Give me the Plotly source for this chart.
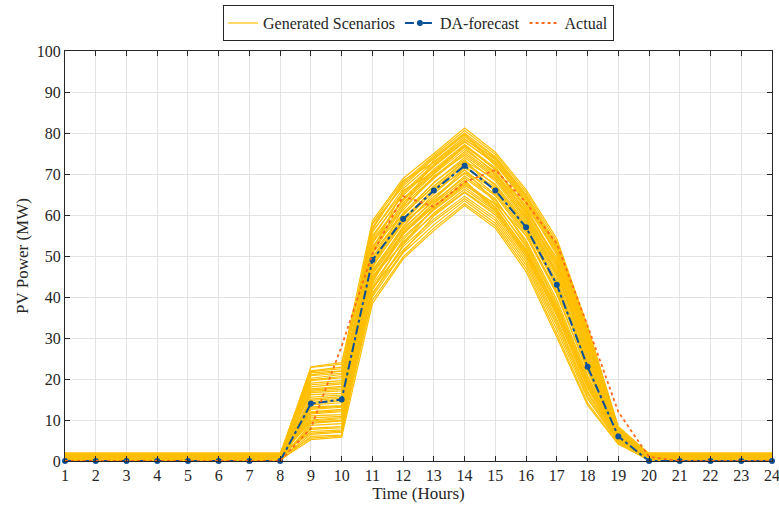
import plotly.graph_objects as go

hours = list(range(1, 25))
y_ticks = list(range(0, 101, 10))

da_forecast = [0, 0, 0, 0, 0, 0, 0, 0, 14, 15, 49, 59, 66, 72, 66, 57, 43, 23, 6, 0, 0, 0, 0, 0]
actual = [0, 0, 0, 0, 0, 0, 0, 0, 8, 28, 50.5, 64.6, 62, 68, 71, 63, 53, 33, 12, 1, 0, 0, 0, 0]

# Each scenario: [night level, h9, h10, h11, h12, h13, h14, h15, h16, h17, h18, h19]
scenario_rows = [
    [1.8, 22.8, 23.6, 58.6, 68.9, 75.0, 81.2, 75.3, 66.2, 54.2, 32.8, 8.4],
    [0.3, 5.2, 5.8, 38.4, 49.3, 56.2, 62.3, 56.8, 46.2, 30.2, 13.6, 4.1],
    [1.2, 21.5, 22.0, 57.0, 67.5, 74.1, 80.0, 74.2, 65.0, 52.8, 31.5, 7.9],
    [0.6, 6.5, 7.0, 40.1, 50.8, 57.6, 63.5, 58.0, 47.8, 32.0, 15.2, 4.5],
    [1.5, 20.2, 21.1, 55.8, 66.4, 73.0, 79.1, 73.5, 64.0, 51.5, 30.4, 7.6],
    [0.9, 8.0, 8.4, 41.8, 52.3, 59.0, 64.6, 59.3, 49.2, 33.8, 16.5, 4.9],
    [1.1, 19.0, 19.6, 54.5, 65.2, 72.0, 78.0, 72.4, 62.8, 50.2, 29.3, 7.3],
    [0.2, 9.2, 9.8, 43.0, 53.5, 60.1, 65.7, 60.5, 50.5, 35.4, 17.8, 5.2],
    [1.7, 18.1, 18.8, 53.2, 64.0, 71.2, 77.2, 71.5, 61.8, 49.0, 28.4, 7.1],
    [0.5, 10.5, 10.9, 44.3, 54.6, 61.2, 66.8, 61.4, 51.6, 36.8, 18.9, 5.5],
    [1.3, 17.0, 17.5, 52.0, 63.0, 70.0, 76.0, 70.5, 60.7, 47.8, 27.3, 6.9],
    [0.8, 11.5, 12.0, 45.5, 55.7, 62.3, 67.9, 62.5, 52.7, 38.0, 19.9, 5.8],
    [1.9, 16.2, 16.5, 50.8, 61.8, 68.9, 75.0, 69.4, 59.6, 46.6, 26.4, 6.7],
    [0.4, 12.6, 13.1, 46.6, 56.8, 63.4, 69.0, 63.6, 53.8, 39.3, 20.9, 6.0],
    [1.4, 15.1, 15.7, 49.6, 60.6, 67.8, 74.0, 68.3, 58.5, 45.4, 25.5, 6.5],
    [0.7, 13.7, 14.2, 47.7, 57.9, 64.5, 70.1, 64.7, 54.9, 40.6, 21.9, 6.2],
    [1.0, 14.3, 15.0, 48.6, 59.2, 66.2, 72.0, 66.0, 56.8, 42.9, 23.2, 6.1],
    [1.6, 22.0, 22.9, 47.0, 62.0, 73.5, 79.8, 72.0, 60.0, 48.0, 30.0, 8.0],
    [0.1, 6.0, 6.3, 50.0, 58.0, 64.0, 71.0, 63.0, 55.0, 41.5, 24.0, 4.3],
    [1.2, 7.2, 7.6, 52.5, 60.0, 67.0, 73.0, 67.2, 57.5, 44.0, 25.0, 6.4],
    [0.9, 20.8, 21.4, 56.5, 68.0, 74.5, 80.6, 74.8, 65.6, 53.5, 32.0, 8.2],
    [1.8, 9.8, 10.3, 39.2, 49.8, 56.8, 62.8, 57.4, 47.0, 31.0, 14.2, 4.2],
    [0.3, 19.6, 20.3, 51.5, 66.0, 70.5, 76.5, 70.0, 61.0, 49.5, 28.8, 7.4],
    [1.5, 12.0, 12.6, 42.5, 51.5, 58.5, 64.0, 58.7, 48.5, 33.0, 15.8, 4.7],
    [0.6, 17.6, 18.2, 55.0, 64.8, 71.8, 77.8, 72.8, 63.2, 51.0, 30.8, 7.7],
    [1.1, 14.8, 15.3, 45.0, 53.0, 61.8, 68.0, 62.0, 51.0, 37.5, 19.5, 5.6],
    [0.2, 8.7, 9.1, 53.8, 61.2, 69.5, 74.5, 69.0, 59.0, 46.0, 26.0, 6.6],
    [1.4, 21.0, 21.9, 43.5, 56.0, 62.8, 68.5, 61.0, 50.0, 36.0, 18.0, 5.0],
    [0.8, 11.0, 11.3, 57.8, 67.0, 73.8, 79.5, 74.0, 64.8, 52.0, 31.0, 7.8],
    [1.7, 16.7, 17.1, 41.0, 51.0, 59.8, 65.5, 60.0, 49.8, 34.5, 17.0, 5.1],
    [0.4, 13.2, 13.5, 49.0, 59.8, 68.0, 73.5, 65.5, 56.0, 43.5, 22.5, 5.9],
    [1.0, 18.6, 19.1, 46.2, 57.2, 65.2, 71.5, 66.8, 57.2, 43.0, 24.5, 6.3],
    [1.3, 7.7, 8.1, 44.8, 55.2, 63.0, 69.5, 64.0, 53.2, 38.5, 20.5, 5.4],
    [0.5, 23.0, 24.0, 54.0, 63.5, 70.8, 77.0, 71.0, 62.2, 50.8, 29.8, 7.5],
    [1.9, 10.0, 10.6, 48.2, 58.6, 66.5, 72.5, 67.5, 58.0, 44.8, 23.5, 6.1],
    [0.7, 15.6, 16.1, 51.2, 62.5, 69.2, 75.5, 69.8, 60.2, 47.2, 27.0, 6.8],
    [1.2, 12.9, 13.3, 40.5, 52.8, 60.5, 66.3, 61.0, 50.8, 35.8, 18.3, 5.3],
    [0.0, 19.8, 20.6, 58.0, 68.4, 72.8, 78.6, 73.0, 63.6, 51.8, 31.8, 8.1],
    [1.6, 6.8, 7.3, 42.0, 54.0, 61.5, 67.2, 62.8, 52.2, 37.0, 19.2, 5.0],
    [0.9, 14.0, 14.7, 50.5, 60.2, 67.0, 73.2, 68.8, 59.2, 45.8, 25.8, 6.6],
    [0.3, 17.3, 17.9, 47.3, 58.3, 65.8, 71.0, 65.0, 55.6, 41.0, 22.2, 5.7],
    [1.4, 9.5, 9.9, 56.0, 65.6, 72.4, 78.4, 73.8, 64.4, 52.4, 31.2, 7.9],
    [0.6, 21.8, 22.5, 44.0, 55.4, 62.0, 67.5, 61.8, 51.4, 36.4, 18.6, 5.3],
    [1.8, 11.8, 12.3, 53.0, 63.8, 70.2, 76.8, 71.2, 61.4, 48.4, 28.0, 7.2],
    [1.0, 5.6, 6.1, 45.8, 56.4, 63.8, 70.4, 66.4, 56.4, 42.2, 23.8, 6.0],
]

SCEN_COLOR = "#FFBF00"
DA_COLOR = "#0A5198"
ACT_COLOR = "#FF6A1A"
AX_COLOR = "#262626"
FONT = "Liberation Serif"

fig = go.Figure()

for i, row in enumerate(scenario_rows):
    night = row[0]
    series = [night] * 8 + row[1:] + [night] * 5
    fig.add_trace(go.Scatter(
        x=hours, y=series, mode="lines",
        line=dict(color=SCEN_COLOR, width=1.2),
        name="Generated Scenarios", legendgroup="scen",
        showlegend=(i == 0), hoverinfo="skip", cliponaxis=False,
    ))

fig.add_trace(go.Scatter(
    x=hours, y=da_forecast, mode="lines+markers",
    line=dict(color=DA_COLOR, width=2, dash="dashdot"),
    marker=dict(color=DA_COLOR, size=6, symbol="circle"),
    name="DA-forecast", cliponaxis=False,
))

fig.add_trace(go.Scatter(
    x=hours, y=actual, mode="lines",
    line=dict(color=ACT_COLOR, width=1.8, dash="dot"),
    name="Actual", cliponaxis=False,
))

fig.update_layout(
    width=779, height=506,
    margin=dict(l=65, r=7, t=51, b=45, autoexpand=False),
    paper_bgcolor="white", plot_bgcolor="white",
    font=dict(family=FONT, size=16, color=AX_COLOR),
    legend=dict(
        orientation="h", x=0.5, xanchor="center", y=1.112, yanchor="top",
        bordercolor=AX_COLOR, borderwidth=1, bgcolor="white",
        font=dict(family=FONT, size=16, color=AX_COLOR),
        itemwidth=30, tracegroupgap=0,
    ),
    showlegend=True,
)

fig.update_xaxes(
    range=[1, 24], tickmode="array", tickvals=hours, ticktext=[str(h) for h in hours],
    showgrid=True, gridcolor="#E3E3E3", gridwidth=1,
    showline=True, linecolor=AX_COLOR, linewidth=1, mirror="ticks",
    ticks="inside", ticklen=5, tickcolor=AX_COLOR,
    zeroline=False, ticklabeloverflow="allow",
    tickfont=dict(family=FONT, size=16),
    title=dict(text="Time (Hours)", font=dict(family=FONT, size=17), standoff=2),
    automargin=False,
)
fig.update_yaxes(
    range=[0, 100], tickmode="array", tickvals=y_ticks, ticktext=[str(v) for v in y_ticks],
    showgrid=True, gridcolor="#E3E3E3", gridwidth=1,
    showline=True, linecolor=AX_COLOR, linewidth=1, mirror="ticks",
    ticks="inside", ticklen=5, tickcolor=AX_COLOR,
    zeroline=False,
    tickfont=dict(family=FONT, size=16),
    title=dict(text="PV Power (MW)", font=dict(family=FONT, size=17), standoff=3),
    automargin=False,
)

fig.write_html(
    "out.html",
    config={"displayModeBar": False},
    post_script="document.body.style.margin='0px';document.body.style.overflow='hidden';",
)
